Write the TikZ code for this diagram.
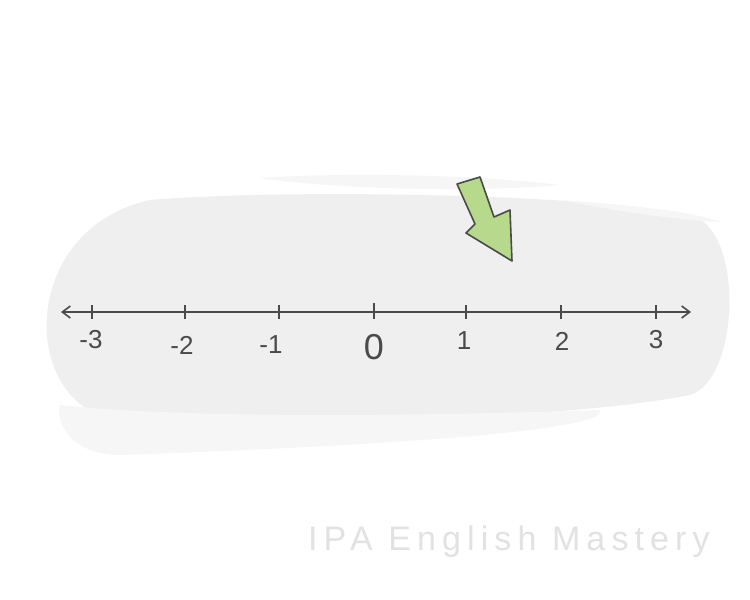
\documentclass[tikz,border=0pt]{standalone}
\usepackage{fontspec}
\setmainfont{Liberation Sans}
\newfontfamily\wmfont[LetterSpace=18]{Liberation Sans}
\usetikzlibrary{arrows.meta}
\definecolor{blob}{HTML}{EFEFEF}
\definecolor{blobhi}{HTML}{F6F6F6}
\definecolor{ink}{HTML}{4A4A4A}
\definecolor{arrowgreen}{HTML}{B6D98C}
\definecolor{wm}{HTML}{E2E2E2}
\tikzset{
  axisline/.style={draw=ink, line width=1.6pt},
  tickmark/.style={draw=ink, line width=1.4pt},
  numlabel/.style={text=ink, font=\fontsize{26}{26}\selectfont, inner sep=0pt},
}
\begin{document}
\begin{tikzpicture}[x=1pt,y=-1pt]
\useasboundingbox (0,0) rectangle (750,600);
\fill[white] (0,0) rectangle (750,600);
% background blob
\fill[blob] (150,200) .. controls (300,188) and (600,195) .. (690,215)
  .. controls (745,228) and (740,380) .. (690,395)
  .. controls (560,420) and (300,425) .. (120,420)
  .. controls (20,410) and (15,230) .. (150,200) -- cycle;
\fill[blobhi] (60,405) .. controls (200,420) and (450,415) .. (600,410)
  .. controls (610,430) and (400,445) .. (120,455)
  .. controls (70,455) and (55,420) .. (60,405) -- cycle;
\fill[blobhi] (260,178) .. controls (350,172) and (480,175) .. (560,185)
  .. controls (480,192) and (340,190) .. (260,178) -- cycle;
\fill[blobhi] (560,200) .. controls (620,205) and (690,210) .. (720,222)
  .. controls (680,220) and (620,212) .. (560,200) -- cycle;
% axis
\coordinate (L) at (61,312);
\coordinate (R) at (691,312);
\draw[axisline, {Straight Barb[length=8pt,width=12pt,line width=1.6pt]}-{Straight Barb[length=8pt,width=12pt,line width=1.6pt]}] (L) -- (R);
\foreach \x/\lab/\lx/\ly in {92/{-3}/91/340, 185/{-2}/182/345, 279/{-1}/271/345, 466/1/464/341, 561/2/562/341, 656/3/656/340}{
  \draw[tickmark] (\x,305) -- (\x,319);
  \node[numlabel] (n\x) at (\lx,\ly) {\lab};
}
\draw[tickmark] (374,303) -- (374,319);
\node[numlabel, font=\fontsize{36}{36}\selectfont] (zero) at (374,347) {0};
% green arrow
\draw[fill=arrowgreen, draw=ink, line width=1.6pt, line join=round]
  (457,184) -- (480,177) -- (494,217) -- (510,210) -- (512,261) -- (466,233) -- (475,224) -- cycle;
% watermark
\node[text=wm, font=\wmfont\fontsize{34}{34}\selectfont, anchor=base west, inner sep=0pt] (wmark) at (308,550) {IPA English Mastery};
\end{tikzpicture}
\end{document}
